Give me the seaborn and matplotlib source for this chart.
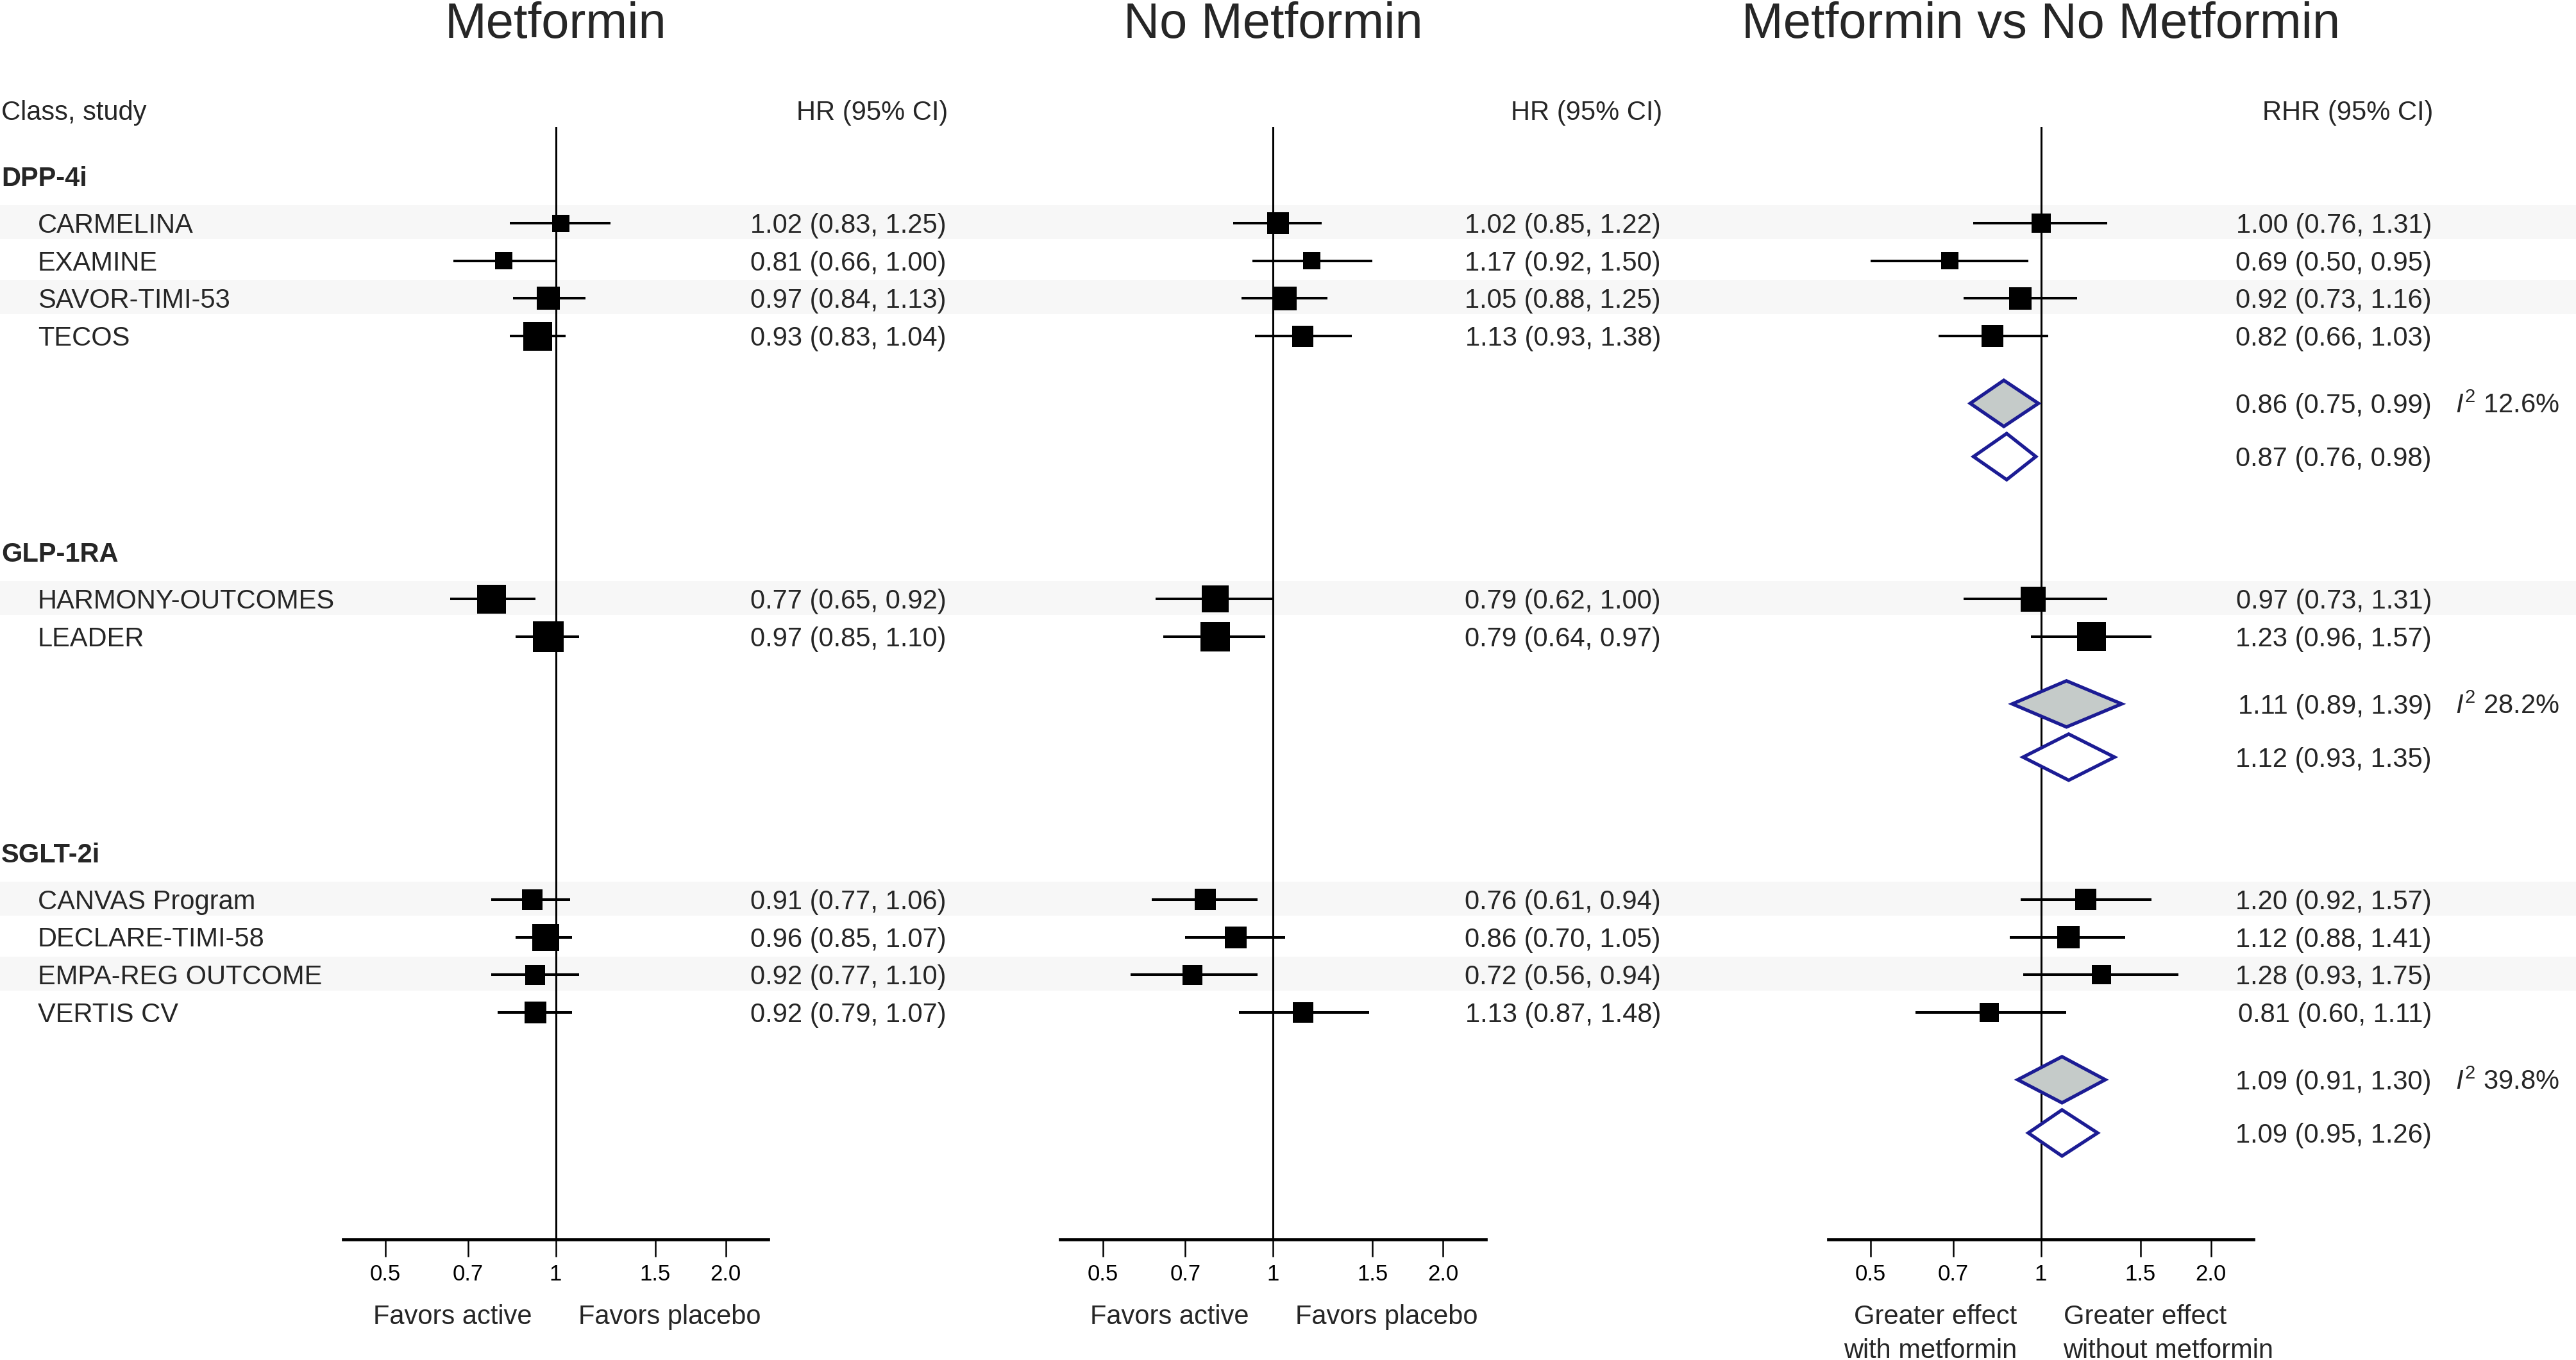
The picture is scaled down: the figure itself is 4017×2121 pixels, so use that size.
import numpy as np
import pandas as pd
import matplotlib
matplotlib.use("Agg")
import matplotlib.pyplot as plt
from matplotlib.patches import Polygon
from matplotlib.ticker import NullLocator, FixedLocator, FixedFormatter
import seaborn as sns

# ---------------- data ----------------
classes = ["DPP-4i", "GLP-1RA", "SGLT-2i"]
studies = ["CARMELINA", "EXAMINE", "SAVOR-TIMI-53", "TECOS",
           "HARMONY-OUTCOMES", "LEADER",
           "CANVAS Program", "DECLARE-TIMI-58", "EMPA-REG OUTCOME", "VERTIS CV"]
study_class = ["DPP-4i"] * 4 + ["GLP-1RA"] * 2 + ["SGLT-2i"] * 4

met_hr = [1.02, 0.81, 0.97, 0.93, 0.77, 0.97, 0.91, 0.96, 0.92, 0.92]
met_lo = [0.83, 0.66, 0.84, 0.83, 0.65, 0.85, 0.77, 0.85, 0.77, 0.79]
met_hi = [1.25, 1.00, 1.13, 1.04, 0.92, 1.10, 1.06, 1.07, 1.10, 1.07]

nomet_hr = [1.02, 1.17, 1.05, 1.13, 0.79, 0.79, 0.76, 0.86, 0.72, 1.13]
nomet_lo = [0.85, 0.92, 0.88, 0.93, 0.62, 0.64, 0.61, 0.70, 0.56, 0.87]
nomet_hi = [1.22, 1.50, 1.25, 1.38, 1.00, 0.97, 0.94, 1.05, 0.94, 1.48]

rhr = [1.00, 0.69, 0.92, 0.82, 0.97, 1.23, 1.20, 1.12, 1.28, 0.81]
rhr_lo = [0.76, 0.50, 0.73, 0.66, 0.73, 0.96, 0.92, 0.88, 0.93, 0.60]
rhr_hi = [1.31, 0.95, 1.16, 1.03, 1.31, 1.57, 1.57, 1.41, 1.75, 1.11]

# study weights
met_w = [27, 27, 36, 45, 45, 48, 32, 42, 31, 34]
nomet_w = [34, 27, 37, 33, 42, 46, 33, 34, 31, 32]
rhr_w = [30, 27, 35, 34, 39, 45, 33, 35, 30, 30]

# pooled estimates (per class) for the ratio panel
pooled_re = [0.86, 1.11, 1.09]
pooled_re_lo = [0.75, 0.89, 0.91]
pooled_re_hi = [0.99, 1.39, 1.30]
pooled_fe = [0.87, 1.12, 1.09]
pooled_fe_lo = [0.76, 0.93, 0.95]
pooled_fe_hi = [0.98, 1.35, 1.26]
i2 = [12.6, 28.2, 39.8]

tick_values = [0.5, 0.7, 1, 1.5, 2.0]
tick_labels = ["0.5", "0.7", "1", "1.5", "2.0"]
panel_titles = ["Metformin", "No Metformin", "Metformin vs No Metformin"]
col_headers = ["HR (95% CI)", "HR (95% CI)", "RHR (95% CI)"]
favor_left = [["Favors active"], ["Favors active"], ["Greater effect", "with metformin"]]
favor_right = [["Favors placebo"], ["Favors placebo"], ["Greater effect", "without metformin"]]

# ---------------- style ----------------
sns.set_theme(style="white")
plt.rcParams["font.family"] = ["Liberation Sans", "DejaVu Sans"]
plt.rcParams["mathtext.fontset"] = "custom"
plt.rcParams["mathtext.rm"] = "Liberation Sans"
plt.rcParams["mathtext.it"] = "Liberation Sans:italic"

W, H = 4017, 2121
DPI = 100
FS = 30
TITLE_FS = 56
TICK_FS = 25
BAND = "#f7f7f7"
BLUE = "#1c1c94"
GREY = "#c5cbc9"

# ---------------- layout (pixel units, y from top) ----------------
PITCH = 58.7
header_y, rows_y, dia_y = [], [], []
y = 275
for c in classes:
    header_y.append(y)
    y += 73
    n = study_class.count(c)
    for i in range(n):
        rows_y.append(y)
        y += PITCH
    y -= PITCH
    y += 105
    dia_y.append((y, y + 83))
    y += 83 + 149

centers = [866.5, 1985.0, 3182.5]   # pixel x of HR = 1 in each panel
HALF = 331.7                         # half axis width in px
AX_TOP, AX_BOT = 198, 1933
value_right = [1476, 2590, 3792]
LOG_HALF = 0.8665
BASE = 15  # half cap-height, to go from visual center to baseline

fig = plt.figure(figsize=(W / DPI, H / DPI), dpi=DPI)
ax_bg = fig.add_axes([0, 0, 1, 1])
ax_bg.set_xlim(0, W)
ax_bg.set_ylim(H, 0)
ax_bg.axis("off")

# row bands
idx = 0
for c in classes:
    n = study_class.count(c)
    for i in range(n):
        if i % 2 == 0:
            yy = rows_y[idx + i]
            ax_bg.axhspan(yy - 28, yy + 25, color=BAND, zorder=0, lw=0)
    idx += n

# left text column
ax_bg.text(2, 172 + BASE, "Class, study", fontsize=FS, ha="left", va="baseline")
for c, hy in zip(classes, header_y):
    ax_bg.text(2, hy + BASE, c, fontsize=FS, fontweight="bold", ha="left", va="baseline")
for s, yy in zip(studies, rows_y):
    ax_bg.text(59, yy + BASE, s, fontsize=FS, ha="left", va="baseline")

panel_data = [
    (met_hr, met_lo, met_hi, met_w),
    (nomet_hr, nomet_lo, nomet_hi, nomet_w),
    (rhr, rhr_lo, rhr_hi, rhr_w),
]

for p in range(3):
    cx = centers[p]
    hr, lo, hi, w = panel_data[p]
    ax = fig.add_axes([(cx - HALF) / W, (H - AX_BOT) / H, 2 * HALF / W, (AX_BOT - AX_TOP) / H])
    ax.set_facecolor("none")
    ax.set_xscale("log")
    ax.set_xlim(np.exp(-LOG_HALF), np.exp(LOG_HALF))
    ax.set_ylim(AX_BOT, AX_TOP)

    ax.axvline(1, color="black", lw=2.2, zorder=1)
    ax.hlines(rows_y, lo, hi, color="black", lw=2.9, zorder=2)
    df = pd.DataFrame({"hr": hr, "y": rows_y, "w": w})
    sns.scatterplot(data=df, x="hr", y="y", marker="s", color="black",
                    s=(np.array(w) * 72 / DPI) ** 2, linewidth=0, ax=ax,
                    zorder=3, legend=False)

    if p == 2:
        for k in range(3):
            for (est, l, h_), yy, fc in [
                ((pooled_re[k], pooled_re_lo[k], pooled_re_hi[k]), dia_y[k][0], GREY),
                ((pooled_fe[k], pooled_fe_lo[k], pooled_fe_hi[k]), dia_y[k][1], "white"),
            ]:
                poly = Polygon([[l, yy], [est, yy - 36], [h_, yy], [est, yy + 36]],
                               closed=True, facecolor=fc, edgecolor=BLUE, lw=3.8,
                               joinstyle="miter", zorder=4)
                ax.add_patch(poly)

    for sp in ["top", "left", "right"]:
        ax.spines[sp].set_visible(False)
    ax.spines["bottom"].set_color("black")
    ax.spines["bottom"].set_linewidth(3.4)
    ax.xaxis.set_major_locator(FixedLocator(tick_values))
    ax.xaxis.set_major_formatter(FixedFormatter(tick_labels))
    ax.xaxis.set_minor_locator(NullLocator())
    ax.set_yticks([])
    ax.tick_params(axis="x", which="major", direction="out", length=19.5, width=1.8,
                   pad=8, labelsize=TICK_FS, color="black", labelcolor="black", bottom=True)
    ax.set_xlabel("")
    ax.set_ylabel("")

    # texts
    ax_bg.text(cx, 59, panel_titles[p], fontsize=TITLE_FS, ha="center", va="baseline")
    ax_bg.text(value_right[p] + 2, 172 + BASE, col_headers[p], fontsize=FS, ha="right", va="baseline")
    for k in range(len(rows_y)):
        ax_bg.text(value_right[p], rows_y[k] + BASE,
                   f"{hr[k]:.2f} ({lo[k]:.2f}, {hi[k]:.2f})",
                   fontsize=FS, ha="right", va="baseline")
    for li, line in enumerate(favor_left[p]):
        ax_bg.text(cx - 37, 2065 + li * 53, line, fontsize=FS, ha="right", va="baseline")
    for li, line in enumerate(favor_right[p]):
        ax_bg.text(cx + 35, 2065 + li * 53, line, fontsize=FS, ha="left", va="baseline")

# pooled text
for k in range(3):
    y0, y1 = dia_y[k]
    ax_bg.text(value_right[2], y0 + BASE,
               f"{pooled_re[k]:.2f} ({pooled_re_lo[k]:.2f}, {pooled_re_hi[k]:.2f})",
               fontsize=FS, ha="right", va="baseline")
    ax_bg.text(value_right[2], y1 + BASE,
               f"{pooled_fe[k]:.2f} ({pooled_fe_lo[k]:.2f}, {pooled_fe_hi[k]:.2f})",
               fontsize=FS, ha="right", va="baseline")
    ax_bg.text(3829, y0 + BASE, f"$I^{{2}}$ {i2[k]:.1f}%", fontsize=FS, ha="left", va="baseline")

fig.savefig("out.png", dpi=DPI)
